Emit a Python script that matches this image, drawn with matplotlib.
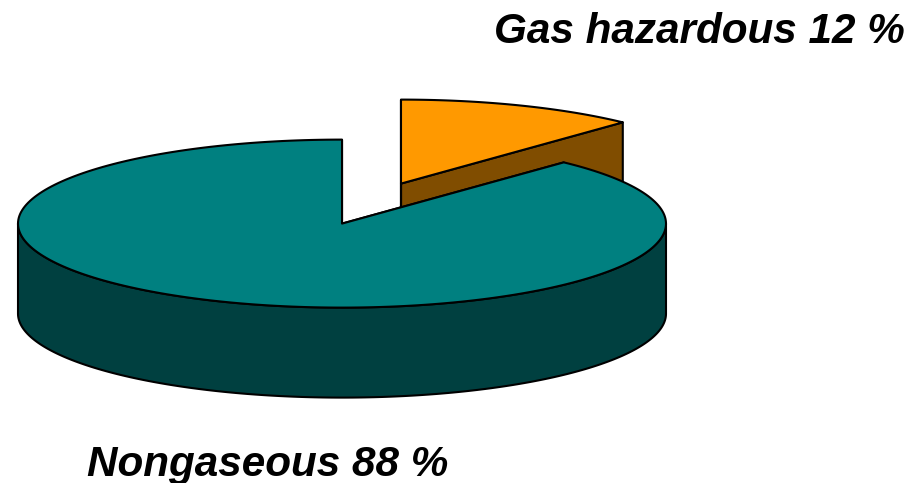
import numpy as np
import matplotlib
matplotlib.use("Agg")
import matplotlib.pyplot as plt
from matplotlib.patches import Polygon

labels = ["Gas hazardous 12 %", "Nongaseous 88 %"]
shares = [12, 88]
top_colors = ["#ff9900", "#008080"]
side_colors = ["#804d00", "#004040"]

RX, RY, DEPTH = 324, 84, 90
CENTER = (342, 223.6)
EXPLODE = (59, -40)
EDGE = dict(edgecolor="black", linewidth=1.5, joinstyle="round")


def arc(cx, cy, t0, t1, dy=0):
    t = np.radians(np.linspace(t0, t1, 240))
    return np.column_stack([cx + RX * np.cos(t), cy - RY * np.sin(t) + dy])


def draw_slice(ax, cx, cy, t0, t1, top, side, z):
    # cut faces first, then outer wall, lid on top
    for t in (t0, t1):
        p = arc(cx, cy, t, t)[0]
        face = [(cx, cy), p, (p[0], p[1] + DEPTH), (cx, cy + DEPTH)]
        ax.add_patch(Polygon(face, facecolor=side, zorder=z, **EDGE))
    a, b = max(t0, 180), min(t1, 360)
    if a < b:
        wall = np.vstack([arc(cx, cy, a, b), arc(cx, cy, b, a, DEPTH)])
        ax.add_patch(Polygon(wall, facecolor=side, zorder=z + 1, **EDGE))
    lid = np.vstack([[(cx, cy)], arc(cx, cy, t0, t1)])
    ax.add_patch(Polygon(lid, facecolor=top, zorder=z + 2, **EDGE))


fig = plt.figure(figsize=(9.13, 4.83), dpi=100)
ax = fig.add_axes([0, 0, 1, 1])
ax.set_xlim(0, 913)
ax.set_ylim(483, 0)
ax.axis("off")

sweep = shares[0] / sum(shares) * 360
draw_slice(ax, CENTER[0] + EXPLODE[0], CENTER[1] + EXPLODE[1], 90 - sweep, 90,
           top_colors[0], side_colors[0], 1)
draw_slice(ax, CENTER[0], CENTER[1], 90, 450 - sweep,
           top_colors[1], side_colors[1], 5)

font = dict(family="Liberation Sans", weight="bold", style="italic", fontsize=30.4, color="black")
ax.text(905, 43, labels[0], ha="right", va="baseline", **font)
# the g descender runs off the bottom edge in the reference too
ax.text(87, 476, labels[1], ha="left", va="baseline", **font)

fig.savefig("out.png", dpi=100)
